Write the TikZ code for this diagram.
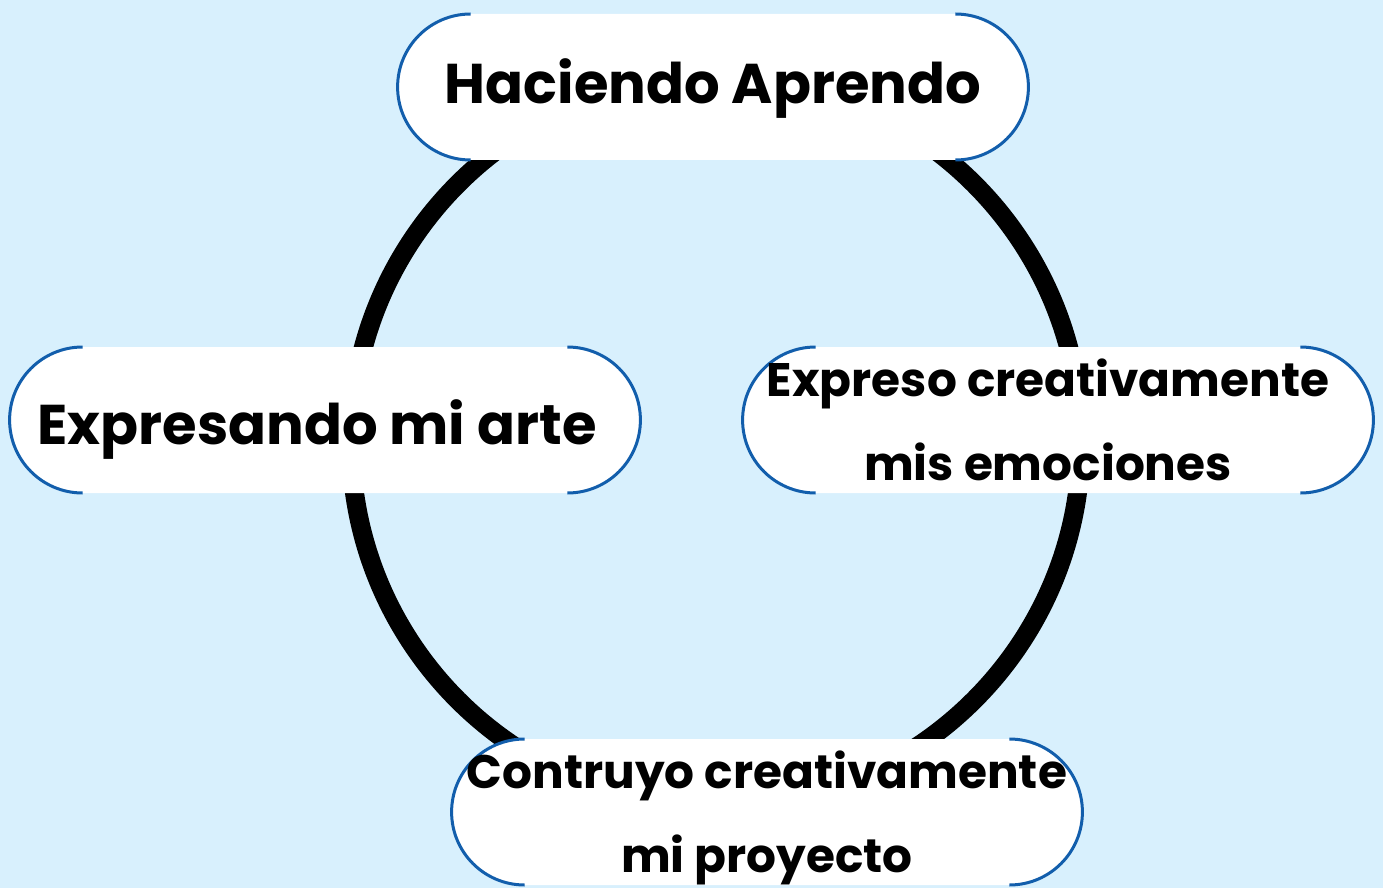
\documentclass[tikz,border=0pt]{standalone}
\usepackage{fontspec}
\setmainfont{Poppins}
\usetikzlibrary{shapes.misc}
\definecolor{skyback}{RGB}{216,240,253}
\definecolor{rimblue}{RGB}{18,94,172}

\begin{document}
\begin{tikzpicture}[x=0.5pt,y=-0.5pt,
    pill/.style={rounded rectangle, fill=white, minimum width=315pt, minimum height=73pt, inner sep=0pt},
    steptext/.style={inner sep=0pt, align=center, font=\bfseries\fontsize{23.5}{42}\selectfont},
    bigtext/.style={steptext, font=\bfseries\fontsize{28}{42}\selectfont},
    rim/.style={draw=rimblue, line width=1.5pt}]
    % background
    \fill[skyback] (0,0) rectangle (1383,888);
    \useasboundingbox (0,0) rectangle (1383,888);

    % the big ring behind the steps
    \draw[line width=9.5pt] (716,442) circle[radius=182.5pt];

    % the four steps
    \node[pill] (hacer) at (713,87) {};
    \node[pill] (arte) at (325,420) {};
    \node[pill] (emocion) at (1058,420) {};
    \node[pill] (proyecto) at (767,812) {};

    % blue rims on the round ends
    \foreach \n in {hacer,arte,emocion,proyecto} {
        \draw[rim] (\n.west) ++(36.5pt,36.5pt) arc[start angle=90,end angle=270,radius=36.5pt];
        \draw[rim] (\n.east) ++(-36.5pt,-36.5pt) arc[start angle=-90,end angle=90,radius=36.5pt];
    }

    % texts of the steps
    \node[bigtext] (hacer-t) at ([yshift=-1pt]hacer) {Haciendo Aprendo};
    \node[bigtext] (arte-t) at ([xshift=-4pt,yshift=-5pt]arte) {Expresando mi arte};
    \node[steptext] (emocion-t) at ([xshift=-5pt]emocion) {Expreso creativamente\\mis emociones};
    \node[steptext] (proyecto-t) at ([yshift=-3pt]proyecto) {Contruyo creativamente\\mi proyecto};
\end{tikzpicture}
\end{document}
